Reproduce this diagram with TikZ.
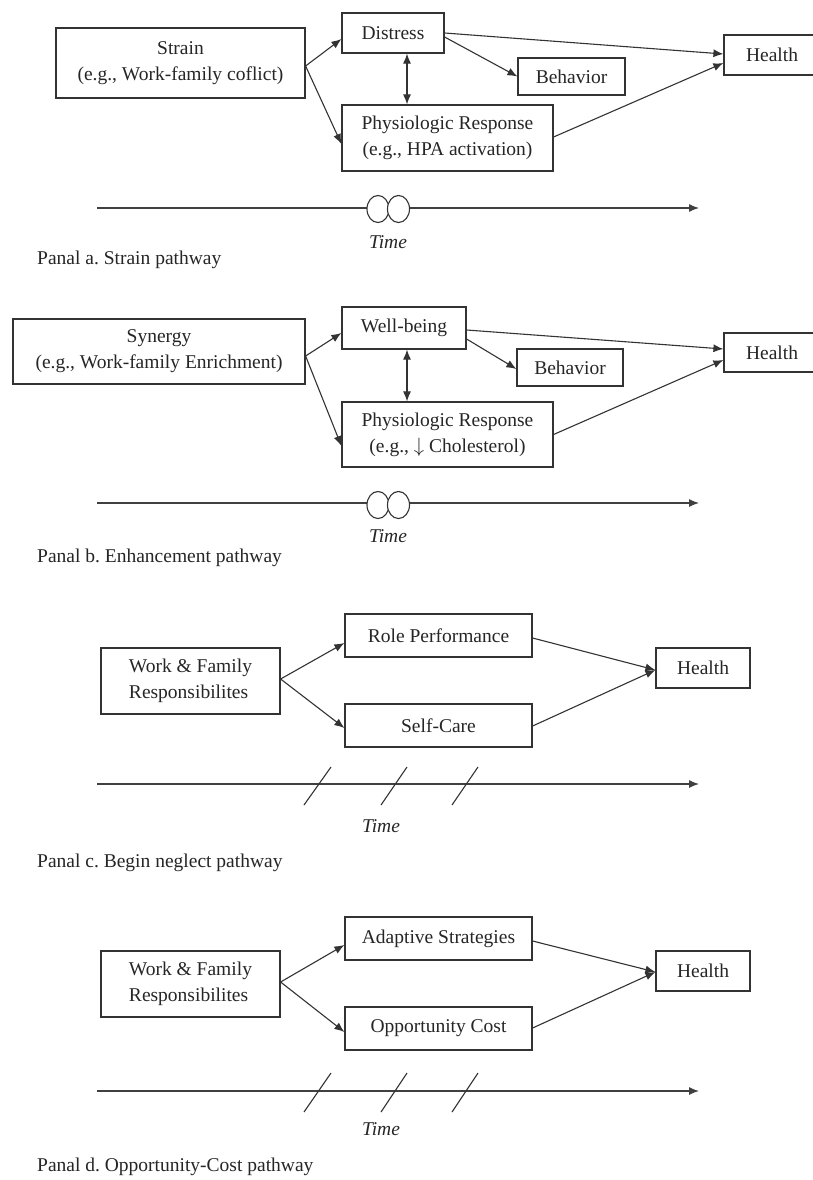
\documentclass[tikz,border=0pt]{standalone}
\usepackage{fontspec}
\setmainfont{Liberation Serif}
\usetikzlibrary{arrows.meta,positioning,calc,shapes.geometric}
\frenchspacing
\begin{document}
\begin{tikzpicture}[x=1pt,y=-1pt,
  font=\fontsize{19.5}{26}\selectfont,
  box/.style={draw=black!80,line width=1.2pt,inner sep=0pt,align=center,text=black!85},
  conn/.style={draw=black!80,line width=1.1pt,-{Latex[length=10pt,width=8pt]}},
  dconn/.style={draw=black!80,line width=1.1pt,{Latex[length=10pt,width=8pt]}-{Latex[length=10pt,width=8pt]}},
  timeline/.style={draw=black!75,line width=1.2pt,-{Latex[length=10pt,width=8pt]}},
  slash/.style={draw=black!80,line width=1.1pt},
  ring/.style={draw=black!80,line width=1.1pt,fill=white,ellipse,minimum width=22pt,minimum height=27pt,inner sep=0pt},
  lbl/.style={anchor=west,inner sep=0pt,text=black!85},
  tlbl/.style={inner sep=0pt,text=black!85,font=\fontsize{19.5}{24}\selectfont\itshape}
]
\useasboundingbox (0,0) rectangle (813,1180);
\fill[white] (0,0) rectangle (813,1180);

% ---------------- Panel a ----------------
\node[box,minimum width=249pt,minimum height=70pt] (strainA) at (180.5,63) {Strain\\(e.g., Work-family coflict)};
\node[box,minimum width=102pt,minimum height=40pt] (distA) at (393,33) {Distress};
\node[box,minimum width=107pt,minimum height=37pt] (behA) at (571.5,76.5) {Behavior};
\node[box,minimum width=96pt,minimum height=40pt] (healthA) at (772,55) {Health};
\node[box,minimum width=211pt,minimum height=66pt] (physA) at (447.5,138) {Physiologic Response\\(e.g., HPA activation)};

\draw[conn] ([yshift=-3pt]strainA.east) -- ([yshift=-6pt]distA.west);
\draw[conn] ([yshift=-3pt]strainA.east) -- ([yshift=-6pt]physA.west);
\draw[conn] (distA.east) -- ([yshift=1pt]healthA.west);
\draw[conn] ([yshift=-4pt]distA.east) -- (behA.west);
\draw[conn] ([yshift=1pt]physA.east) -- ([yshift=-8pt]healthA.west);
\draw[dconn] ([xshift=14pt]distA.south) -- ([xshift=14pt]distA.south |- physA.north);

\coordinate (taS) at (97,208);
\coordinate (taE) at (699,208);
\draw[timeline] (taS) -- (taE);
\node[ring] (cA1) at (378,209) {};
\node[ring] (cA2) at (398.5,209) {};
\node[tlbl] (timeA) at (388,242) {Time};
\node[lbl] (panA) at (37,260) {Panal a. Strain pathway};

% ---------------- Panel b ----------------
\node[box,minimum width=292pt,minimum height=65pt] (synB) at (159,351.5) {Synergy\\(e.g., Work-family Enrichment)};
\node[box,minimum width=124pt,minimum height=42pt] (wellB) at (404,328) {Well-being};
\node[box,minimum width=106pt,minimum height=37pt] (behB) at (570,367.5) {Behavior};
\node[box,minimum width=96pt,minimum height=39pt] (healthB) at (772,352.5) {Health};
\node[box,minimum width=211pt,minimum height=65pt] (physB) at (447.5,434.5) {Physiologic Response\\(e.g., $\downarrow$ Cholesterol)};

\draw[conn] ([yshift=-4.5pt]synB.east) -- ([yshift=-5pt]wellB.west);
\draw[conn] ([yshift=-4.5pt]synB.east) -- ([yshift=-11.5pt]physB.west);
\draw[conn] ([yshift=-2pt]wellB.east) -- ([yshift=3.5pt]healthB.west);
\draw[conn] ([yshift=-11pt]wellB.east) -- ([yshift=-1.5pt]behB.west);
\draw[conn] ([yshift=0pt]physB.east) -- ([yshift=-7.5pt]healthB.west);
\draw[dconn] ([xshift=3pt]wellB.south) -- ([xshift=3pt]wellB.south |- physB.north);

\coordinate (tbS) at (97,503);
\coordinate (tbE) at (699,503);
\draw[timeline] (tbS) -- (tbE);
\node[ring] (cB1) at (378,505) {};
\node[ring] (cB2) at (398.5,505) {};
\node[tlbl] (timeB) at (388,536) {Time};
\node[lbl] (panB) at (37,558) {Panal b. Enhancement pathway};

% ---------------- Panel c ----------------
\node[box,minimum width=179pt,minimum height=66pt,align=left] (wfC) at (190.5,681) {Work \& Family\\Responsibilites};
\node[box,minimum width=187pt,minimum height=43pt] (roleC) at (438.5,635.5) {Role Performance};
\node[box,minimum width=187pt,minimum height=43pt] (selfC) at (438.5,725.5) {Self-Care};
\node[box,minimum width=94pt,minimum height=40pt] (healthC) at (703,668) {Health};

\draw[conn] ([yshift=2pt]wfC.east) -- ([yshift=-7.5pt]roleC.west);
\draw[conn] ([yshift=2pt]wfC.east) -- ([yshift=-2.5pt]selfC.west);
\draw[conn] ([yshift=-2.5pt]roleC.east) -- ([yshift=-2pt]healthC.west);
\draw[conn] ([yshift=-0.5pt]selfC.east) -- ([yshift=-2pt]healthC.west);

\coordinate (tcS) at (97,784);
\coordinate (tcE) at (699,784);
\draw[timeline] (tcS) -- (tcE);
\coordinate (sc1a) at (304,805); \coordinate (sc1b) at (331,767);
\coordinate (sc2a) at (381,805); \coordinate (sc2b) at (407,767);
\coordinate (sc3a) at (452,805); \coordinate (sc3b) at (478,767);
\draw[slash] (sc1a) -- (sc1b);
\draw[slash] (sc2a) -- (sc2b);
\draw[slash] (sc3a) -- (sc3b);
\node[tlbl] (timeC) at (381,826) {Time};
\node[lbl] (panC) at (37,863) {Panal c. Begin neglect pathway};

% ---------------- Panel d ----------------
\node[box,minimum width=179pt,minimum height=66pt,align=left] (wfD) at (190.5,984) {Work \& Family\\Responsibilites};
\node[box,minimum width=187pt,minimum height=43pt] (adaD) at (438.5,938.5) {Adaptive Strategies};
\node[box,minimum width=187pt,minimum height=43pt] (oppD) at (438.5,1028.5) {Opportunity Cost};
\node[box,minimum width=94pt,minimum height=40pt] (healthD) at (703,971) {Health};

\draw[conn] ([yshift=2pt]wfD.east) -- ([yshift=-6.5pt]adaD.west);
\draw[conn] ([yshift=2pt]wfD.east) -- ([yshift=-3.5pt]oppD.west);
\draw[conn] ([yshift=-2.5pt]adaD.east) -- ([yshift=-1pt]healthD.west);
\draw[conn] ([yshift=0.5pt]oppD.east) -- ([yshift=-1pt]healthD.west);

\coordinate (tdS) at (97,1091);
\coordinate (tdE) at (699,1091);
\draw[timeline] (tdS) -- (tdE);
\coordinate (sd1a) at (304,1112); \coordinate (sd1b) at (331,1073);
\coordinate (sd2a) at (381,1112); \coordinate (sd2b) at (407,1073);
\coordinate (sd3a) at (452,1112); \coordinate (sd3b) at (478,1073);
\draw[slash] (sd1a) -- (sd1b);
\draw[slash] (sd2a) -- (sd2b);
\draw[slash] (sd3a) -- (sd3b);
\node[tlbl] (timeD) at (381,1129) {Time};
\node[lbl] (panD) at (37,1167) {Panal d. Opportunity-Cost pathway};
\end{tikzpicture}
\end{document}
